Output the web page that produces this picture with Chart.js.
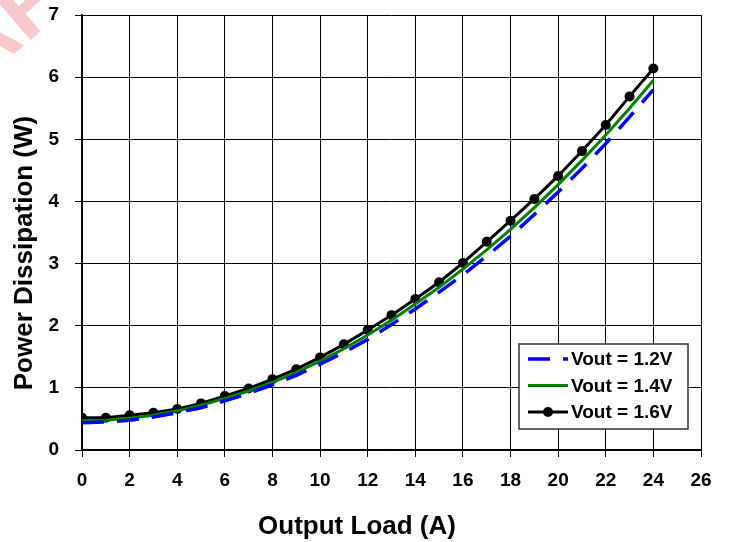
<!DOCTYPE html>
<html>
<head>
<meta charset="utf-8">
<script src="https://cdn.jsdelivr.net/npm/chart.js@4"></script>
<style>
  html, body { margin: 0; padding: 0; background: #fff; }
  #wrap { width: 734px; height: 542px; }
</style>
</head>
<body>
<div id="wrap"><canvas id="MyChart1" width="734" height="542"></canvas></div>
<script>
// output load (A)
var load = [0, 1, 2, 3, 4, 5, 6, 7, 8, 9, 10, 11, 12, 13, 14, 15, 16, 17, 18, 19, 20, 21, 22, 23, 24];
// power dissipation (W)
var vout12 = [0.44, 0.45, 0.48, 0.53, 0.60, 0.68, 0.79, 0.91, 1.05, 1.20, 1.38, 1.57, 1.78, 2.02, 2.27, 2.54, 2.82, 3.12, 3.44, 3.79, 4.15, 4.53, 4.93, 5.36, 5.80];
var vout14 = [0.47, 0.48, 0.51, 0.56, 0.63, 0.72, 0.83, 0.95, 1.09, 1.25, 1.43, 1.63, 1.85, 2.09, 2.35, 2.62, 2.91, 3.22, 3.55, 3.90, 4.27, 4.66, 5.07, 5.50, 5.95];
var vout16 = [0.52, 0.52, 0.56, 0.60, 0.66, 0.75, 0.87, 0.99, 1.14, 1.30, 1.49, 1.70, 1.93, 2.17, 2.43, 2.70, 3.01, 3.35, 3.69, 4.04, 4.41, 4.81, 5.23, 5.69, 6.14];
var seriesNames = ["Vout = 1.2V", "Vout = 1.4V", "Vout = 1.6V"];

var FONT = '"Liberation Sans", Arial, Helvetica, sans-serif';

function pts(ys) {
	var r = [];
	for (var i = 0; i < load.length; i++) r.push({x: load[i], y: ys[i]});
	return r;
}

// titles, legend box and the watermark are drawn by hand
var extras = {
	id: 'extras',
	beforeDraw: function(chart) {
		var c = chart.ctx;
		c.save();
		c.fillStyle = '#fff';
		c.fillRect(0, 0, chart.width, chart.height);
		// pink watermark in the corner
		c.fillStyle = 'rgba(248,190,196,0.85)';
		c.font = 'bold 92px ' + FONT;
		c.translate(26, 44);
		c.rotate(-41 * Math.PI / 180);
		var w = c.measureText('DRA').width;
		c.fillText('DRAFT', -w, 0);
		c.restore();
	},
	afterDraw: function(chart) {
		var c = chart.ctx;
		var ds = chart.data.datasets;
		c.save();
		c.fillStyle = '#000';
		c.font = 'bold 26px ' + FONT;
		c.textAlign = 'center';
		c.textBaseline = 'alphabetic';
		c.fillText('Output Load (A)', 357, 534);
		c.translate(32, 253);
		c.rotate(-Math.PI / 2);
		c.fillText('Power Dissipation (W)', 0, 0);
		c.restore();

		// legend
		c.save();
		var bx = 519, by = 344, bw = 169, bh = 85;
		c.fillStyle = '#fff';
		c.fillRect(bx, by, bw, bh);
		c.strokeStyle = '#333';
		c.lineWidth = 1.5;
		c.strokeRect(bx, by, bw, bh);
		c.font = 'bold 19px ' + FONT;
		c.textBaseline = 'middle';
		c.textAlign = 'left';
		var rows = [359, 385.5, 412];
		for (var i = 0; i < ds.length; i++) {
			var y = rows[i];
			c.strokeStyle = ds[i].borderColor;
			c.lineWidth = ds[i].borderWidth;
			c.setLineDash(ds[i].borderDash || []);
			c.beginPath();
			c.moveTo(528, y);
			c.lineTo(568, y);
			c.stroke();
			c.setLineDash([]);
			if (ds[i].pointRadius > 0) {
				c.fillStyle = ds[i].borderColor;
				c.beginPath();
				c.arc(548, y, 5, 0, Math.PI * 2);
				c.fill();
			}
			c.fillStyle = '#000';
			c.fillText(ds[i].label, 571, y + 1);
		}
		c.restore();
	}
};

var ctx = document.getElementById('MyChart1').getContext('2d');
var chart = new Chart(ctx, {
	type : 'line',
	data : {
		datasets : [ {
			label : seriesNames[0],
			data : pts(vout12),
			borderColor : "#0000ff",
			borderWidth : 3.5,
			borderDash : [ 22, 13 ],
			pointRadius : 0,
			fill : false
		}, {
			label : seriesNames[1],
			data : pts(vout14),
			borderColor : "#008000",
			borderWidth : 3,
			pointRadius : 0,
			fill : false
		}, {
			label : seriesNames[2],
			data : pts(vout16),
			borderColor : "#000000",
			backgroundColor : "#000000",
			borderWidth : 3,
			pointRadius : 5,
			pointBorderWidth : 0,
			pointBackgroundColor : "#000000",
			fill : false
		} ]
	},
	plugins : [ extras ],
	options : {
		responsive : false,
		animation : false,
		events : [],
		layout : { padding : { top : 15, right : 33, left : 0, bottom : 0 } },
		plugins : {
			legend : { display : false },
			tooltip : { enabled : false }
		},
		scales : {
			x : {
				type : 'linear',
				min : 0,
				max : 26,
				afterFit : function(s) { s.height = 92; s.paddingLeft = 0; s.paddingRight = 0; },
				ticks : { stepSize : 2, color : '#000', padding : 12,
					font : { family : FONT, size : 19, weight : 'bold' } },
				grid : { color : '#000', lineWidth : 1, tickLength : 7 },
				border : { color : '#000', width : 1.5 }
			},
			y : {
				min : 0,
				max : 7,
				afterFit : function(s) { s.width = 82; s.paddingTop = 0; s.paddingBottom = 0; },
				ticks : { stepSize : 1, color : '#000', padding : 16,
					font : { family : FONT, size : 19, weight : 'bold' } },
				grid : { color : '#000', lineWidth : 1, tickLength : 7 },
				border : { color : '#000', width : 1.5 }
			}
		}
	}
});
</script>
</body>
</html>
